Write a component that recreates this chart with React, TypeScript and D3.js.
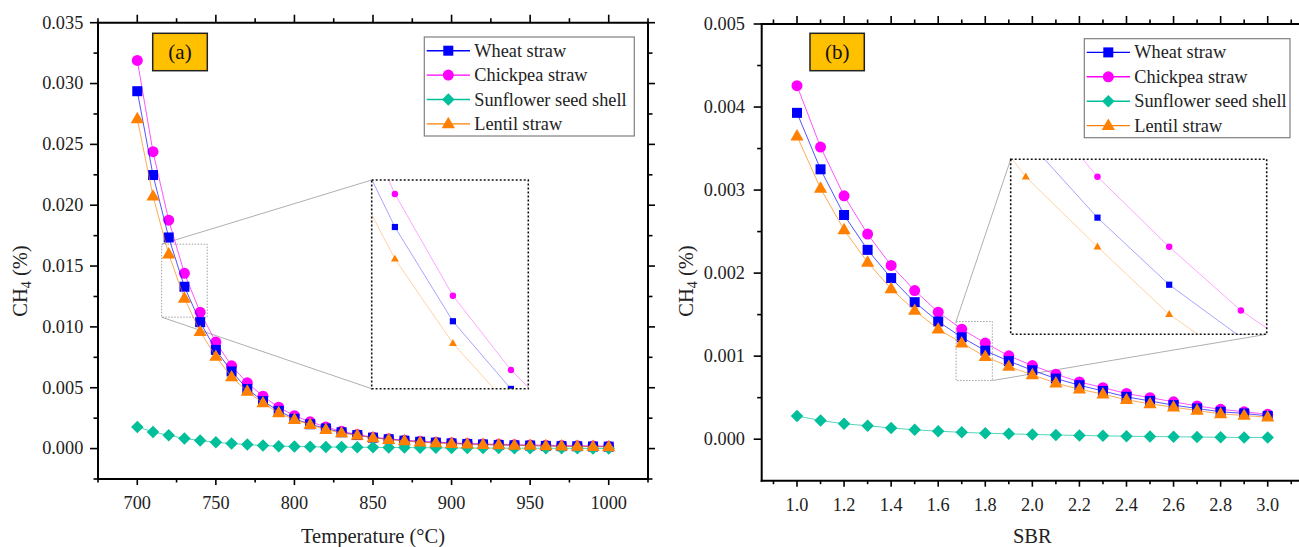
import React from 'react';
import * as d3 from 'd3';

// ---------- DATA ----------
const temperatures = [700, 710, 720, 730, 740, 750, 760, 770, 780, 790, 800, 810, 820, 830, 840, 850, 860, 870, 880, 890, 900, 910, 920, 930, 940, 950, 960, 970, 980, 990, 1000];
const tempWheat = [0.02937, 0.02248, 0.01735, 0.0133, 0.01039, 0.00811, 0.00634, 0.0049, 0.0039, 0.0031, 0.00245, 0.002, 0.00165, 0.00134, 0.00111, 0.0009, 0.00077, 0.00065, 0.00056, 0.00049, 0.00043, 0.00038, 0.00034, 0.0003, 0.00027, 0.00025, 0.00022, 0.0002, 0.00019, 0.00017, 0.00016];
const tempChickpea = [0.0319, 0.0244, 0.01877, 0.0144, 0.0112, 0.00875, 0.0068, 0.0054, 0.0043, 0.0034, 0.0027, 0.0022, 0.00178, 0.00142, 0.00115, 0.00093, 0.0008, 0.00068, 0.0006, 0.00053, 0.00047, 0.00042, 0.00038, 0.00035, 0.00032, 0.0003, 0.00027, 0.00025, 0.00023, 0.00022, 0.0002];
const tempSunflower = [0.00178, 0.00137, 0.00109, 0.00083, 0.00066, 0.00052, 0.00041, 0.00033, 0.00025, 0.0002, 0.00017, 0.00015, 0.00013, 0.00012, 0.00011, 0.0001, 0.00009, 0.00008, 0.00007, 0.00006, 0.00005, 0.00005, 0.00004, 0.00004, 0.00003, 0.00003, 0.00002, 0.00002, 0.00002, 0.00001, 0.00001];
const tempLentil = [0.0271, 0.02074, 0.01598, 0.01235, 0.0096, 0.00757, 0.00588, 0.0047, 0.00375, 0.00293, 0.00238, 0.00197, 0.00156, 0.00128, 0.00109, 0.00088, 0.00074, 0.00063, 0.00052, 0.00046, 0.00041, 0.00037, 0.00033, 0.0003, 0.00027, 0.00025, 0.00022, 0.0002, 0.00018, 0.00016, 0.00014];

const sbrValues = [1.0, 1.1, 1.2, 1.3, 1.4, 1.5, 1.6, 1.7, 1.8, 1.9, 2.0, 2.1, 2.2, 2.3, 2.4, 2.5, 2.6, 2.7, 2.8, 2.9, 3.0];
const sbrWheat = [0.00393, 0.00325, 0.0027, 0.00228, 0.00194, 0.00165, 0.001417, 0.001227, 0.001066, 0.00094, 0.00083, 0.00073, 0.00065, 0.00058, 0.00051, 0.00046, 0.00041, 0.00037, 0.00033, 0.00031, 0.00028];
const sbrChickpea = [0.004257, 0.003518, 0.002931, 0.00247, 0.002092, 0.00179, 0.00153, 0.001325, 0.001157, 0.001004, 0.000887, 0.000783, 0.00069, 0.00062, 0.00055, 0.0005, 0.00045, 0.0004, 0.00036, 0.00033, 0.0003];
const sbrSunflower = [0.00028, 0.000225, 0.000185, 0.000162, 0.000135, 0.000113, 0.000097, 0.000082, 0.000072, 0.000064, 0.000057, 0.00005, 0.000045, 0.00004, 0.000036, 0.000032, 0.000029, 0.000026, 0.000023, 0.000021, 0.00002];
const sbrLentil = [0.00365, 0.00302, 0.00252, 0.00213, 0.00181, 0.00155, 0.001325, 0.001157, 0.000995, 0.000875, 0.000775, 0.000675, 0.000602, 0.000542, 0.000475, 0.000425, 0.000386, 0.000345, 0.000305, 0.000285, 0.000265];

const seriesNames = ['Wheat straw', 'Chickpea straw', 'Sunflower seed shell', 'Lentil straw'];

const tempXTicks = [700, 750, 800, 850, 900, 950, 1000];
const tempXMinor = [675, 725, 775, 825, 875, 925, 975, 1025];
const tempYTicks = [0, 0.005, 0.01, 0.015, 0.02, 0.025, 0.03, 0.035];
const tempYMinor = [-0.0025, 0.0025, 0.0075, 0.0125, 0.0175, 0.0225, 0.0275, 0.0325];

const sbrXTicks = [1.0, 1.2, 1.4, 1.6, 1.8, 2.0, 2.2, 2.4, 2.6, 2.8, 3.0];
const sbrXMinor = [0.9, 1.1, 1.3, 1.5, 1.7, 1.9, 2.1, 2.3, 2.5, 2.7, 2.9, 3.1];
const sbrYTicks = [0, 0.001, 0.002, 0.003, 0.004, 0.005];
const sbrYMinor = [0.0005, 0.0015, 0.0025, 0.0035, 0.0045];

// ---------- STYLE ----------
const FONT = "'Times New Roman', 'Liberation Serif', serif";
const COLORS: Record<string, string> = {
  'Wheat straw': '#0000FF',
  'Chickpea straw': '#FF00FF',
  'Sunflower seed shell': '#00BF9A',
  'Lentil straw': '#FF8000',
};
const SHAPES: Record<string, string> = {
  'Wheat straw': 'square',
  'Chickpea straw': 'circle',
  'Sunflower seed shell': 'diamond',
  'Lentil straw': 'triangle',
};
const MAIN_SIZE: Record<string, number> = { square: 10, circle: 11, diamond: 12.5, triangle: 12 };
const INSET_SIZE: Record<string, number> = { square: 6.2, circle: 6.5, diamond: 7, triangle: 7.2 };

function Marker({ shape, x, y, s, color }: { shape: string; x: number; y: number; s: number; color: string }) {
  if (shape === 'square') return <rect x={x - s / 2} y={y - s / 2} width={s} height={s} fill={color} />;
  if (shape === 'circle') return <circle cx={x} cy={y} r={s / 2} fill={color} />;
  if (shape === 'diamond')
    return <polygon points={`${x},${y - s / 2} ${x + s / 2},${y} ${x},${y + s / 2} ${x - s / 2},${y}`} fill={color} />;
  const w = s * 1.1;
  const h = s * 0.95;
  return <polygon points={`${x},${y - 0.62 * h} ${x + w / 2},${y + 0.38 * h} ${x - w / 2},${y + 0.38 * h}`} fill={color} />;
}

type PanelProps = {
  id: string;
  frame: { x0: number; x1: number; y0: number; y1: number };
  xDomain: [number, number];
  yDomain: [number, number];
  xs: number[];
  values: Record<string, number[]>;
  xTicks: number[];
  xMinor: number[];
  yTicks: number[];
  yMinor: number[];
  xFmt: (v: number) => string;
  yFmt: (v: number) => string;
  xTitle: string;
  yTitleX: number;
  yLabelGap: number;
  tag: string;
  tagBox: { x: number; y: number; w: number; h: number };
  legend: { x: number; y: number; w: number; h: number };
  inset: {
    frame: { x0: number; x1: number; y0: number; y1: number };
    xDomain: [number, number];
    yDomain: [number, number];
    region: { x: [number, number]; y: [number, number] };
    connectors: [string, string][];
  };
};

function corner(b: { x0: number; x1: number; y0: number; y1: number }, c: string): [number, number] {
  const x = c[1] === 'l' ? b.x0 : b.x1;
  const y = c[0] === 't' ? b.y0 : b.y1;
  return [x, y];
}

function Panel(p: PanelProps) {
  const { frame } = p;
  const xs = d3.scaleLinear(p.xDomain, [frame.x0, frame.x1]);
  const ys = d3.scaleLinear(p.yDomain, [frame.y1, frame.y0]);
  const drawOrder = ['Chickpea straw', 'Wheat straw', 'Sunflower seed shell', 'Lentil straw'];

  const ix = d3.scaleLinear(p.inset.xDomain, [p.inset.frame.x0, p.inset.frame.x1]);
  const iy = d3.scaleLinear(p.inset.yDomain, [p.inset.frame.y1, p.inset.frame.y0]);
  const region = {
    x0: xs(p.inset.region.x[0]),
    x1: xs(p.inset.region.x[1]),
    y0: ys(p.inset.region.y[1]),
    y1: ys(p.inset.region.y[0]),
  };
  const ifr = p.inset.frame;

  const TICK = 8;
  const MINOR = 4.5;
  const fs = 18.3;

  return (
    <g fontFamily={FONT}>
      <defs>
        <clipPath id={`${p.id}-inset`}>
          <rect x={ifr.x0} y={ifr.y0} width={ifr.x1 - ifr.x0} height={ifr.y1 - ifr.y0} />
        </clipPath>
      </defs>

      {/* zoom region and connectors */}
      <rect x={region.x0} y={region.y0} width={region.x1 - region.x0} height={region.y1 - region.y0}
        fill="none" stroke="#8a8a8a" strokeWidth={0.8} strokeDasharray="1.5,1.5" />
      {p.inset.connectors.map(([a, b], i) => {
        const [xa, ya] = corner(region, a);
        const [xb, yb] = corner(ifr, b);
        return <line key={i} x1={xa} y1={ya} x2={xb} y2={yb} stroke="#9a9a9a" strokeWidth={0.8} />;
      })}

      {/* series */}
      {drawOrder.map((name) => {
        const vals = p.values[name];
        const line = d3.line<number>().x((_, i) => xs(p.xs[i])).y((v) => ys(v));
        return (
          <g key={name}>
            <path d={line(vals) || ''} fill="none" stroke={COLORS[name]} strokeWidth={0.9} strokeOpacity={0.75} />
            {vals.map((v, i) => (
              <Marker key={i} shape={SHAPES[name]} x={xs(p.xs[i])} y={ys(v)} s={MAIN_SIZE[SHAPES[name]]} color={COLORS[name]} />
            ))}
          </g>
        );
      })}

      {/* inset */}
      <rect x={ifr.x0} y={ifr.y0} width={ifr.x1 - ifr.x0} height={ifr.y1 - ifr.y0} fill="white" />
      <g clipPath={`url(#${p.id}-inset)`}>
        {drawOrder.map((name) => {
          const vals = p.values[name];
          const line = d3.line<number>().x((_, i) => ix(p.xs[i])).y((v) => iy(v));
          return (
            <g key={name}>
              <path d={line(vals) || ''} fill="none" stroke={COLORS[name]} strokeWidth={0.8} strokeOpacity={0.45} />
              {vals.map((v, i) => (
                <Marker key={i} shape={SHAPES[name]} x={ix(p.xs[i])} y={iy(v)} s={INSET_SIZE[SHAPES[name]]} color={COLORS[name]} />
              ))}
            </g>
          );
        })}
      </g>
      <rect x={ifr.x0} y={ifr.y0} width={ifr.x1 - ifr.x0} height={ifr.y1 - ifr.y0}
        fill="none" stroke="#111" strokeWidth={1.6} strokeDasharray="2,2" />

      {/* axes frame */}
      <g stroke="#000" strokeWidth={2}>
        <line x1={frame.x0} y1={frame.y0 - 1} x2={frame.x0} y2={frame.y1 + 1} />
        <line x1={frame.x1} y1={frame.y0 - 1} x2={frame.x1} y2={frame.y1 + 1} />
        <line x1={frame.x0 - 1} y1={frame.y0} x2={frame.x1 + 1} y2={frame.y0} />
        <line x1={frame.x0 - 1} y1={frame.y1} x2={frame.x1 + 1} y2={frame.y1} />
      </g>
      <g stroke="#000" strokeWidth={1.6}>
        {p.xTicks.map((t) => (
          <g key={`xt${t}`}>
            <line x1={xs(t)} x2={xs(t)} y1={frame.y1} y2={frame.y1 + 6} />
            <line x1={xs(t)} x2={xs(t)} y1={frame.y0} y2={frame.y0 - TICK} />
          </g>
        ))}
        {p.xMinor.map((t) => (
          <g key={`xm${t}`}>
            <line x1={xs(t)} x2={xs(t)} y1={frame.y1} y2={frame.y1 + 3.5} />
            <line x1={xs(t)} x2={xs(t)} y1={frame.y0} y2={frame.y0 - MINOR} />
          </g>
        ))}
        {p.yTicks.map((t) => (
          <g key={`yt${t}`}>
            <line x1={frame.x0} x2={frame.x0 - TICK} y1={ys(t)} y2={ys(t)} />
            <line x1={frame.x1} x2={frame.x1 + 7} y1={ys(t)} y2={ys(t)} />
          </g>
        ))}
        {p.yMinor.map((t) => (
          <g key={`ym${t}`}>
            <line x1={frame.x0} x2={frame.x0 - MINOR} y1={ys(t)} y2={ys(t)} />
            <line x1={frame.x1} x2={frame.x1 + MINOR} y1={ys(t)} y2={ys(t)} />
          </g>
        ))}
      </g>
      <g fontSize={fs} fill="#222">
        {p.xTicks.map((t) => (
          <text key={`xl${t}`} x={xs(t)} y={frame.y1 + 30} textAnchor="middle">{p.xFmt(t)}</text>
        ))}
        {p.yTicks.map((t) => (
          <text key={`yl${t}`} x={frame.x0 - p.yLabelGap} y={ys(t) + 5.8} textAnchor="end">{p.yFmt(t)}</text>
        ))}
      </g>
      <text x={(frame.x0 + frame.x1) / 2} y={543} textAnchor="middle" fontSize={20.5} fill="#222">{p.xTitle}</text>
      <text transform={`translate(${p.yTitleX},281) rotate(-90)`} textAnchor="middle" fontSize={20.5} fill="#222">
        CH<tspan fontSize={14} dy={4}>4</tspan><tspan dy={-4}> (%)</tspan>
      </text>

      {/* tag */}
      <rect x={p.tagBox.x} y={p.tagBox.y} width={p.tagBox.w} height={p.tagBox.h} fill="#FFC000" stroke="#222" strokeWidth={1.5} />
      <text x={p.tagBox.x + p.tagBox.w / 2} y={p.tagBox.y + 25.5} textAnchor="middle" fontSize={21} fill="#111">{p.tag}</text>

      {/* legend */}
      <rect x={p.legend.x} y={p.legend.y} width={p.legend.w} height={p.legend.h} fill="white" stroke="#808080" strokeWidth={1.2} />
      {seriesNames.map((name, i) => {
        const cy = p.legend.y + 13.7 + i * 24.4;
        return (
          <g key={name}>
            <line x1={p.legend.x + 2.4} x2={p.legend.x + 45.7} y1={cy} y2={cy} stroke={COLORS[name]} strokeWidth={1.4} />
            <Marker shape={SHAPES[name]} x={p.legend.x + 24} y={cy} s={MAIN_SIZE[SHAPES[name]]} color={COLORS[name]} />
            <text x={p.legend.x + 50} y={cy + 6} fontSize={fs} fill="#222">{name}</text>
          </g>
        );
      })}
    </g>
  );
}

export default function App() {
  const tempVals: Record<string, number[]> = {
    'Wheat straw': tempWheat,
    'Chickpea straw': tempChickpea,
    'Sunflower seed shell': tempSunflower,
    'Lentil straw': tempLentil,
  };
  const sbrVals: Record<string, number[]> = {
    'Wheat straw': sbrWheat,
    'Chickpea straw': sbrChickpea,
    'Sunflower seed shell': sbrSunflower,
    'Lentil straw': sbrLentil,
  };
  return (
    <svg width={1299} height={547} style={{ position: 'absolute', left: 0, top: 0, background: 'white' }}>
      <rect width={1299} height={547} fill="white" />
      <Panel
        id="a"
        frame={{ x0: 98, x1: 648, y0: 22.7, y1: 479 }}
        xDomain={[675, 1025]}
        yDomain={[-0.0025, 0.035]}
        xs={temperatures}
        values={tempVals}
        xTicks={tempXTicks}
        xMinor={tempXMinor}
        yTicks={tempYTicks}
        yMinor={tempYMinor}
        xFmt={(v) => d3.format('d')(v)}
        yFmt={(v) => d3.format('.3f')(v)}
        xTitle="Temperature (°C)"
        yTitleX={27}
        yLabelGap={14.7}
        tag="(a)"
        tagBox={{ x: 152.7, y: 33.3, w: 54.6, h: 37.4 }}
        legend={{ x: 424.3, y: 37, w: 210, h: 99 }}
        inset={{
          frame: { x0: 371.7, x1: 528.3, y0: 180, y1: 388.7 },
          xDomain: [716, 743],
          yDomain: [0.0104, 0.01937],
          region: { x: [715.5, 744.5], y: [0.0108, 0.0168] },
          connectors: [['tl', 'tl'], ['bl', 'bl']],
        }}
      />
      <Panel
        id="b"
        frame={{ x0: 761.7, x1: 1303, y0: 24, y1: 480.7 }}
        xDomain={[0.85, 3.15]}
        yDomain={[-0.0005, 0.005]}
        xs={sbrValues}
        values={sbrVals}
        xTicks={sbrXTicks}
        xMinor={sbrXMinor}
        yTicks={sbrYTicks}
        yMinor={sbrYMinor}
        xFmt={(v) => d3.format('.1f')(v)}
        yFmt={(v) => d3.format('.3f')(v)}
        xTitle="SBR"
        yTitleX={693}
        yLabelGap={16.7}
        tag="(b)"
        tagBox={{ x: 810, y: 33.3, w: 54.3, h: 37.4 }}
        legend={{ x: 1084.3, y: 38.7, w: 205.7, h: 99 }}
        inset={{
          frame: { x0: 1010.7, x1: 1266.7, y0: 159.3, y1: 334.3 },
          xDomain: [1.579, 1.936],
          yDomain: [0.000947, 0.001367],
          region: { x: [1.676, 1.83], y: [0.000706, 0.001417] },
          connectors: [['tl', 'tl'], ['br', 'br']],
        }}
      />
    </svg>
  );
}
